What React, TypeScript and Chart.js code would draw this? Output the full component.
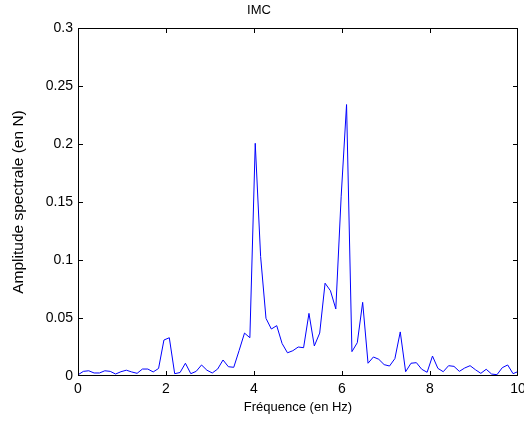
import React, { useEffect, useRef } from "react";
import { Chart, registerables } from "chart.js";

Chart.register(...registerables);

// Frequency resolution of the spectrum (Hz)
const FREQ_STEP = 0.12207;

// Spectral amplitude (N) at each frequency bin
const amplitude: number[] = [
  0.001, 0.004, 0.0045, 0.0026, 0.0026, 0.0045, 0.004, 0.0017, 0.0037, 0.005,
  0.0035, 0.0023, 0.006, 0.006, 0.0035, 0.0065, 0.031, 0.033, 0.002, 0.003,
  0.011, 0.002, 0.004, 0.0095, 0.005, 0.0026, 0.006, 0.0138, 0.008, 0.0075,
  0.022, 0.037, 0.033, 0.2006, 0.103, 0.0497, 0.0405, 0.0434, 0.028, 0.02,
  0.0218, 0.025, 0.0244, 0.054, 0.0259, 0.037, 0.08, 0.0735, 0.0578, 0.155,
  0.234, 0.021, 0.0287, 0.0635, 0.011, 0.0164, 0.0144, 0.0098, 0.0086, 0.015,
  0.038, 0.0037, 0.011, 0.0115, 0.0058, 0.0032, 0.0172, 0.0066, 0.0037, 0.0089,
  0.0083, 0.004, 0.0069, 0.0089, 0.0054, 0.0023, 0.0058, 0.0017, 0.0011, 0.0072,
  0.0095, 0.002, 0.004,
];

const xTicks = [0, 2, 4, 6, 8, 10];
const yTicks = [0, 0.05, 0.1, 0.15, 0.2, 0.25, 0.3];

const chartTitle = "IMC";
const xTitle = "Fréquence (en Hz)";
const yTitle = "Amplitude spectrale (en N)";

const FONT = "'Liberation Sans', Arial, Helvetica, sans-serif";

const framePlugin = {
  id: "matlabFrame",
  afterDraw(chart: any) {
    const { ctx, chartArea } = chart;
    const xs = chart.scales.x;
    const ys = chart.scales.y;
    const L = Math.round(chartArea.left);
    const R = Math.round(chartArea.right) - 1;
    const T = Math.round(chartArea.top);
    const B = Math.round(chartArea.bottom) - 1;
    const len = 4;
    ctx.save();
    ctx.fillStyle = "#000";
    // box around the plot area
    ctx.fillRect(L, T, R - L + 1, 1);
    ctx.fillRect(L, B, R - L + 1, 1);
    ctx.fillRect(L, T, 1, B - T + 1);
    ctx.fillRect(R, T, 1, B - T + 1);
    // inward ticks on all four sides
    for (const v of xTicks) {
      const px = Math.min(R, Math.round(xs.getPixelForValue(v)));
      ctx.fillRect(px, B - len, 1, len);
      ctx.fillRect(px, T + 1, 1, len);
    }
    for (const v of yTicks) {
      const py = Math.min(B, Math.round(ys.getPixelForValue(v)));
      ctx.fillRect(L + 1, py, len, 1);
      ctx.fillRect(R - len, py, len, 1);
    }
    ctx.restore();
  },
};

export default function App() {
  const canvasRef = useRef<HTMLCanvasElement | null>(null);

  useEffect(() => {
    if (!canvasRef.current) return;
    Chart.defaults.font.family = FONT;
    Chart.defaults.color = "#000";
    const points = amplitude.map((a, i) => ({ x: i * FREQ_STEP, y: a }));
    const chart = new Chart(canvasRef.current, {
      type: "line",
      data: {
        datasets: [
          {
            data: points,
            borderColor: "#0000ff",
            borderWidth: 1,
            pointRadius: 0,
            tension: 0,
            fill: false,
          },
        ],
      },
      options: {
        animation: false,
        responsive: true,
        maintainAspectRatio: false,
        layout: { padding: { left: 0, right: 6, top: 0, bottom: 0 } },
        plugins: {
          legend: { display: false },
          tooltip: { enabled: false },
          title: {
            display: true,
            text: chartTitle,
            font: { size: 13, weight: "normal", family: FONT },
            color: "#000",
            padding: { top: 3, bottom: 9.4 },
          },
        },
        scales: {
          x: {
            type: "linear",
            min: 0,
            max: 10,
            afterBuildTicks: (scale: any) => {
              scale.ticks = xTicks.map((v) => ({ value: v }));
            },
            afterFit: (scale: any) => {
              scale.height = 45;
              scale.paddingLeft = 0;
              scale.paddingRight = 0;
            },
            grid: { display: false, drawTicks: false },
            border: { display: false },
            ticks: {
              padding: 5,
              maxRotation: 0,
              autoSkip: false,
              font: { size: 14 },
              color: "#000",
              callback: (v: any) => String(v),
            },
            title: {
              display: true,
              text: xTitle,
              font: { size: 13 },
              color: "#000",
              padding: { top: 0, bottom: 6.2 },
            },
          },
          y: {
            type: "linear",
            min: 0,
            max: 0.3,
            afterBuildTicks: (scale: any) => {
              scale.ticks = yTicks.map((v) => ({ value: v }));
            },
            afterFit: (scale: any) => {
              scale.width = 78;
              scale.paddingTop = 0;
              scale.paddingBottom = 0;
            },
            grid: { display: false, drawTicks: false },
            border: { display: false },
            ticks: {
              padding: 5,
              autoSkip: false,
              font: { size: 14 },
              color: "#000",
              callback: (v: any) => String(parseFloat(Number(v).toFixed(2))),
            },
            title: {
              display: true,
              text: yTitle,
              font: { size: 15.5 },
              color: "#000",
              padding: { top: 9, bottom: 0 },
            },
          },
        },
      },
      plugins: [framePlugin],
    } as any);
    return () => chart.destroy();
  }, []);

  return (
    <div
      style={{
        position: "fixed",
        left: 0,
        top: 0,
        width: 524,
        height: 421,
        background: "#fff",
      }}
    >
      <canvas ref={canvasRef} />
    </div>
  );
}
